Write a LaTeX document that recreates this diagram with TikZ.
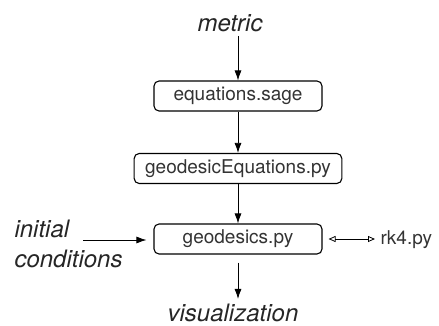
\documentclass[tikz,border=0pt]{standalone}
\usepackage{fontspec}
\setmainfont{TeX Gyre Heros}
\usetikzlibrary{arrows.meta,positioning}
\tikzset{
    file/.style={draw, rounded corners=5pt, line width=1.1pt, text=black!80,
        minimum width=168pt, minimum height=30pt, inner xsep=11pt,
        font=\fontsize{19}{22}\selectfont},
    words/.style={text=black!85, font=\fontsize{24}{29}\selectfont\itshape},
    flow/.style={-{Latex[length=10pt,width=7pt]}, line width=0.8pt},
    link/.style={{Triangle[open,length=7pt,width=6pt]}-{Triangle[open,length=7pt,width=6pt]}, line width=0.8pt}
}
\begin{document}
\begin{tikzpicture}[x=1pt,y=-1pt]
    \useasboundingbox (0,0) rectangle (439,326);
    % inputs
    \node[words, anchor=base] (metric) at (230,32) {metric};
    \node[words, anchor=base west] (init) at (11,237) {initial};
    \node[words, anchor=base west] (cond) at (11,267) {conditions};
    \coordinate (ic) at (83,240);
    % scripts
    \node[file] (eqs) at (238,96) {equations.sage};
    \node[file] (geqs) at (238,168.5) {geodesicEquations.py};
    \node[file] (geo) at (238,239) {geodesics.py};
    \node[anchor=west, text=black!80, font=\fontsize{19}{22}\selectfont] (rk) at (377,240) {rk4.py};
    % output
    \node[words, anchor=base] (vis) at (233,321) {visualization};

    \draw[flow] (metric.south -| eqs.north) -- (eqs.north);
    \draw[flow] (eqs) -- (geqs);
    \draw[flow] (geqs) -- (geo);
    \draw[flow, shorten >=7pt] (ic) -- (ic -| geo.west);
    \draw[flow, shorten <=8pt, shorten >=1pt] (geo.south) -- (vis.north -| geo.south);
    \draw[link, shorten <=6pt, shorten >=2pt] (geo.east) -- (geo.east -| rk.west);
\end{tikzpicture}
\end{document}
